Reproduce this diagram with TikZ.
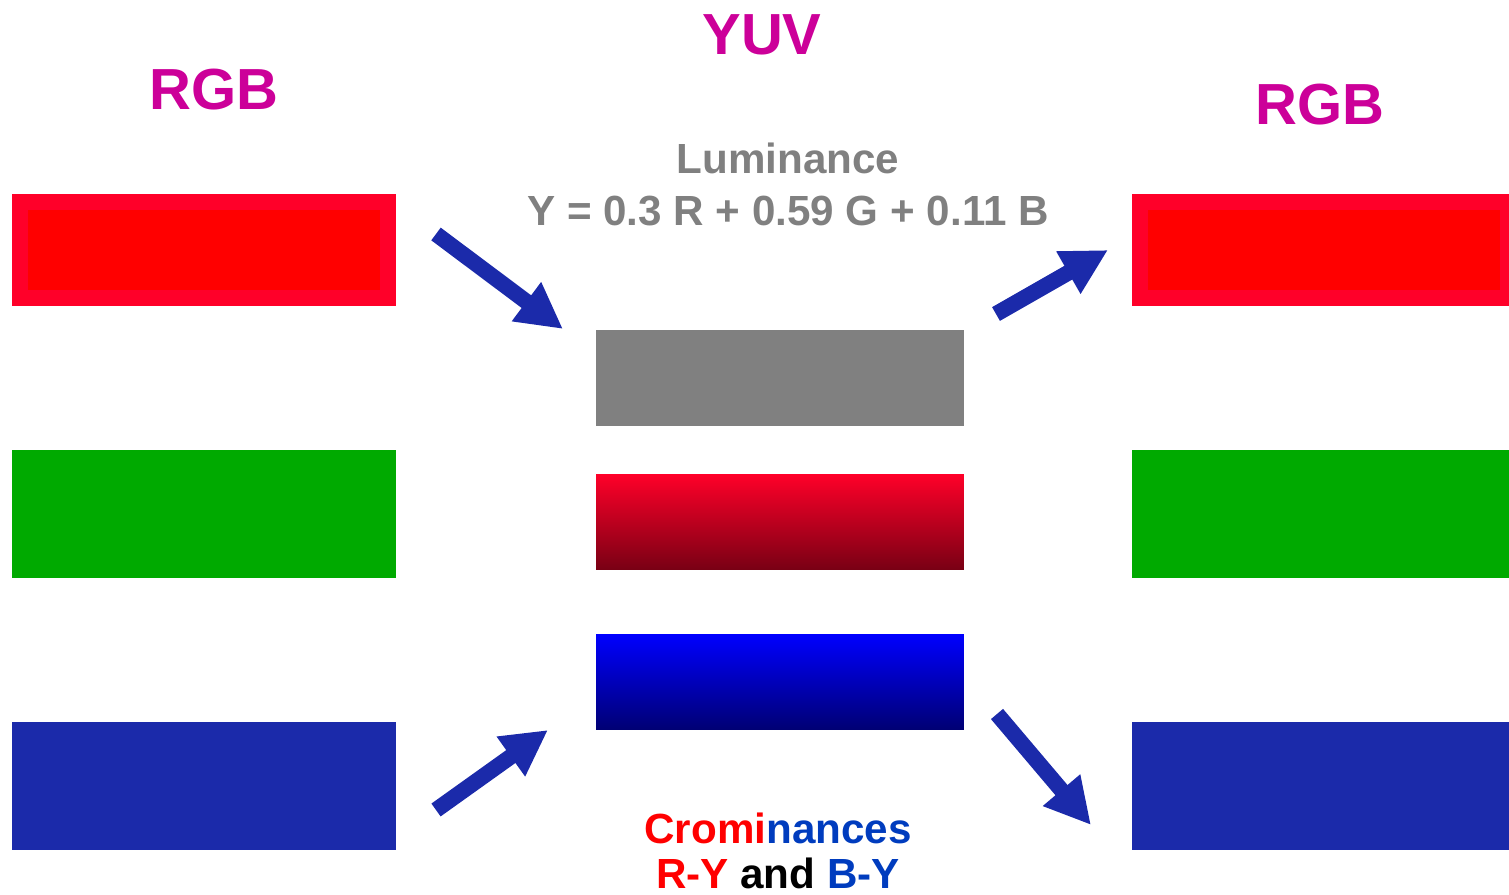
\documentclass[tikz,border=0pt]{standalone}
\usepackage{fontspec}
\setmainfont{Liberation Sans}
\usetikzlibrary{arrows.meta}
\definecolor{rgbred}{RGB}{255,0,0}
\definecolor{rimred}{RGB}{255,0,41}
\definecolor{darkred}{RGB}{120,0,20}
\definecolor{rgbgreen}{RGB}{0,170,0}
\definecolor{rgbblue}{RGB}{27,42,170}
\definecolor{pureblue}{RGB}{0,0,255}
\definecolor{darkblue}{RGB}{0,0,115}
\definecolor{lumgray}{RGB}{128,128,128}
\definecolor{titlemag}{RGB}{204,0,153}
\definecolor{crblue}{RGB}{0,60,190}

\begin{document}
\begin{tikzpicture}[x=0.02cm, y=-0.02cm,
  band/.style={inner sep=0pt, outer sep=0pt, minimum width=7.68cm, minimum height=2.56cm},
  redband/.style={inner sep=0pt, outer sep=0pt, fill=rgbred, draw=rimred, line width=0.32cm,
    minimum width=7.36cm, minimum height=1.92cm},
  yuvband/.style={inner sep=0pt, outer sep=0pt, minimum width=7.36cm, minimum height=1.92cm},
  title/.style={text=titlemag, font=\fontsize{33}{36}\selectfont\bfseries, anchor=base},
  notetext/.style={font=\fontsize{24}{28}\selectfont\bfseries, anchor=base},
  conv/.style={draw=rgbblue, line width=9pt, -{Triangle[length=26pt, width=26pt]}}]
  \clip (0,0) rectangle (1509,895);

  \node[redband] (lr) at (204,250) {};
  \node[band, fill=rgbgreen] (lg) at (204,514) {};
  \node[band, fill=rgbblue] (lb) at (204,786) {};

  \node[redband] (rr) at (1324,250) {};
  \node[band, fill=rgbgreen] (rg) at (1324,514) {};
  \node[band, fill=rgbblue] (rb) at (1324,786) {};

  \node[yuvband, fill=lumgray] (yy) at (780,378) {};
  \node[yuvband, top color=rimred, bottom color=darkred] (ry) at (780,522) {};
  \node[yuvband, top color=pureblue, bottom color=darkblue] (by) at (780,682) {};

  \node[title] (lt) at (214,110) {RGB};
  \node[title] (yt) at (762,55) {YUV};
  \node[title] (rt) at (1320,125) {RGB};

  \node[notetext, text=lumgray] (lum) at (788,174) {Luminance};
  \node[notetext, text=lumgray] (eq) at (788,226) {Y = 0.3 R + 0.59 G + 0.11 B};
  \node[notetext] (cro) at (778,843) {\textcolor{rgbred}{Cromi}\textcolor{crblue}{nances}};
  \node[notetext] (dif) at (778,888) {\textcolor{rgbred}{R-Y} and \textcolor{crblue}{B-Y}};

  \coordinate (inR) at (436,234);
  \coordinate (toY) at (563,329);
  \coordinate (fromY) at (996,314);
  \coordinate (outR) at (1108,250);
  \coordinate (inB) at (436,810);
  \coordinate (toBY) at (548,730);
  \coordinate (fromBY) at (997,714);
  \coordinate (outB) at (1091,825);

  \draw[conv] (inR) -- (toY);
  \draw[conv] (fromY) -- (outR);
  \draw[conv] (inB) -- (toBY);
  \draw[conv] (fromBY) -- (outB);
\end{tikzpicture}
\end{document}
